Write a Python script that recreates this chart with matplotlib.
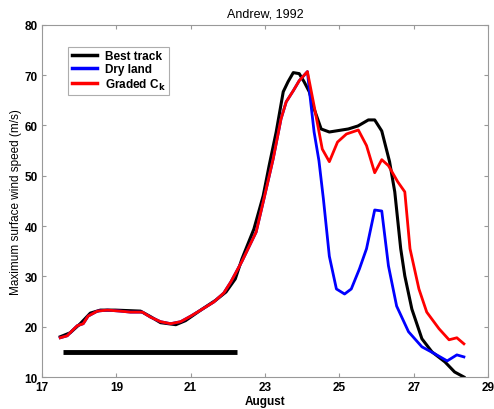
import numpy as np
import matplotlib.pyplot as plt

plt.rcParams['font.family'] = ['Liberation Sans', 'DejaVu Sans']

# best track
bt_day = [17.49, 17.76, 18.03, 18.3, 18.57, 18.97, 19.65, 19.92, 20.19, 20.6, 20.86,
          21.27, 21.68, 21.95, 22.2, 22.38, 22.7, 22.95, 23.11, 23.3, 23.49, 23.62,
          23.76, 23.92, 24.05, 24.19, 24.32, 24.51, 24.73, 25.24, 25.5, 25.78, 25.95,
          26.14, 26.35, 26.49, 26.65, 26.76, 26.95, 27.22, 27.49, 27.84, 28.1, 28.35]
bt_wind = [18.0, 18.8, 20.6, 22.7, 23.3, 23.3, 23.1, 22.0, 20.8, 20.4, 21.2,
           23.3, 25.3, 26.9, 29.5, 33.5, 39.4, 46.0, 52.0, 58.7, 66.7, 68.7,
           70.5, 70.3, 68.7, 66.7, 63.3, 59.3, 58.7, 59.3, 59.9, 61.1, 61.1,
           58.9, 52.8, 46.8, 35.5, 30.1, 23.5, 17.6, 15.0, 13.0, 11.0, 10.0]

# common part of both model runs, up to the peak
early_day = [17.49, 17.68, 17.81, 17.95, 18.11, 18.24, 18.49, 18.76, 19.1, 19.38,
             19.7, 19.92, 20.19, 20.46, 20.73, 21.0, 21.27, 21.62, 21.89, 22.08,
             22.38, 22.76, 22.97, 23.22, 23.43, 23.57, 23.76, 23.92, 24.14]
early_wind = [17.8, 18.2, 19.2, 20.2, 20.6, 22.1, 23.1, 23.3, 23.1, 22.9,
              22.9, 21.9, 21.0, 20.6, 21.0, 22.1, 23.3, 24.9, 26.7, 28.9,
              33.0, 38.8, 45.4, 53.4, 61.3, 64.7, 66.9, 68.9, 70.7]

# dry land run
dry_day = early_day + [24.2, 24.32, 24.45, 24.57, 24.73, 24.92, 25.14, 25.32, 25.54,
                       25.73, 25.95, 26.14, 26.32, 26.54, 26.86, 27.22, 27.57, 27.9,
                       28.16, 28.35]
dry_wind = early_wind + [66.5, 58.7, 53.0, 45.4, 34.0, 27.5, 26.5, 27.5, 31.5,
                         35.5, 43.2, 43.0, 32.1, 24.1, 19.0, 16.0, 14.6, 13.2,
                         14.4, 14.0]

# graded Ck run
gck_day = early_day + [24.32, 24.54, 24.73, 24.95, 25.19, 25.51, 25.73, 25.95,
                       26.14, 26.32, 26.57, 26.76, 26.9, 27.14, 27.35, 27.68, 27.95,
                       28.16, 28.35]
gck_wind = early_wind + [63.9, 55.3, 52.8, 56.7, 58.3, 59.1, 56.0, 50.6,
                         53.2, 52.0, 48.8, 46.8, 35.5, 27.5, 22.9, 19.6, 17.4,
                         17.8, 16.6]

# period bar
bar_days = [17.57, 22.24]
bar_level = 15

fig = plt.figure(figsize=(4.94, 4.10), dpi=100)
ax = fig.add_axes([0.085, 0.078, 0.903, 0.859])

ax.plot(bt_day, bt_wind, color='black', lw=2.2, label='Best track')
ax.plot(dry_day, dry_wind, color='blue', lw=2.0, label='Dry land')
ax.plot(gck_day, gck_wind, color='red', lw=2.0, label='Graded C$_\\mathbf{k}$')
ax.plot(bar_days, [bar_level, bar_level], color='black', lw=3.5, solid_capstyle='butt')

ax.set_xlim(17, 29)
ax.set_ylim(10, 80)
ax.set_xticks(np.arange(17, 30, 2))
ax.set_yticks(np.arange(10, 81, 10))
ax.tick_params(direction='in', top=True, right=True, length=3, color='#999999',
               labelsize=8.5, pad=3)
for lab in ax.get_xticklabels() + ax.get_yticklabels():
    lab.set_fontweight('bold')
for sp in ax.spines.values():
    sp.set_color('#999999')

ax.set_title('Andrew, 1992', fontsize=9, pad=6)
ax.set_xlabel('August', fontsize=8.5, fontweight='bold', labelpad=1)
ax.set_ylabel('Maximum surface wind speed (m/s)', fontsize=8.5, labelpad=2)

leg = ax.legend(loc='upper left', bbox_to_anchor=(0.045, 0.955), fancybox=False,
                edgecolor='#999999', fontsize=8.5, handlelength=2.2,
                borderpad=0.3, labelspacing=0.1, handletextpad=0.6)
leg.get_frame().set_linewidth(0.8)
for line in leg.get_lines():
    line.set_linewidth(2.5)
for t in leg.get_texts():
    t.set_fontweight('bold')

fig.savefig('out.png', dpi=100)
